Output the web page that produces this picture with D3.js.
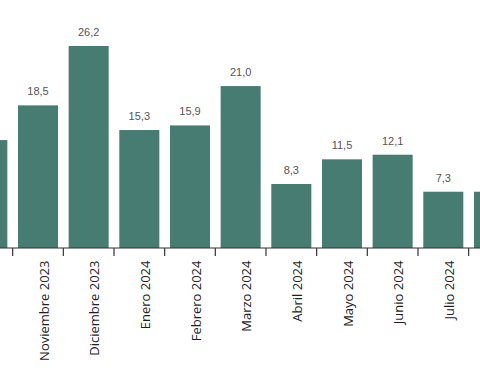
<!DOCTYPE html>
<html><head><meta charset="utf-8">
<script src="https://cdn.jsdelivr.net/npm/d3@7"></script>
<style>html,body{margin:0;padding:0;background:#fff;overflow:hidden}</style>
</head><body><svg id="c" width="480" height="384"></svg>
<script>
const categories = ["Octubre 2023","Noviembre 2023","Diciembre 2023","Enero 2024","Febrero 2024","Marzo 2024","Abril 2024","Mayo 2024","Junio 2024","Julio 2024","Agosto 2024"];
const values = [14.0,18.5,26.2,15.3,15.9,21.0,8.3,11.5,12.1,7.3,7.3];
const valueLabels = ["14,0","18,5","26,2","15,3","15,9","21,0","8,3","11,5","12,1","7,3","7,3"];

const svg = d3.select("#c");
const W = 480, baseY = 248;
const x = d3.scaleBand().domain(categories).range([-38, 519.3]).paddingInner(0.21).paddingOuter(0.105);
const y = d3.scaleLinear().domain([0, 26.2]).range([baseY, 46]);
const color = "#467c72";

svg.selectAll("rect.bar").data(categories).join("rect")
  .attr("class","bar")
  .attr("x", d => x(d))
  .attr("width", x.bandwidth())
  .attr("y", (d,i) => y(values[i]))
  .attr("height", (d,i) => baseY - y(values[i]))
  .attr("fill", color);

// only the categories whose band lies fully inside the view get texts
const inView = d => x(d) >= 0 && x(d) + x.bandwidth() <= W;
const visible = categories.map((d,i) => ({d, i})).filter(o => inView(o.d));

svg.selectAll("text.val").data(visible).join("text")
  .attr("class","val")
  .attr("x", o => x(o.d) + x.bandwidth()/2)
  .attr("y", o => y(values[o.i]) - 10)
  .attr("text-anchor","middle")
  .attr("font-family","Liberation Sans, Arial, sans-serif")
  .attr("font-size", 11)
  .attr("fill","#555")
  .text(o => valueLabels[o.i]);

// axis
const step = x.step();
const axis = d3.axisBottom(x).tickSize(0).tickPadding(0)
  .tickFormat(d => inView(d) ? d : "");
const g = svg.append("g").attr("transform", `translate(0,${baseY})`).call(axis);
g.selectAll(".tick").filter(d => !inView(d)).remove();
g.select(".domain").attr("d", `M0,0H${W}`).attr("stroke","#333").attr("stroke-width",1.2);
g.selectAll(".tick text")
  .attr("font-family","Open Sans, sans-serif")
  .attr("font-size", 13)
  .attr("fill","#1e1e1e")
  .attr("text-anchor","end")
  .attr("dy","0.35em")
  .attr("y", 0)
  .attr("transform","translate(6,12.5) rotate(-90)");
// boundary ticks
svg.append("g").selectAll("line").data(categories.slice(1)).join("line")
  .attr("x1", d => x(d) - step*x.paddingInner()/2)
  .attr("x2", d => x(d) - step*x.paddingInner()/2)
  .attr("y1", baseY).attr("y2", baseY + 8)
  .attr("stroke","#333").attr("stroke-width",1.2);
</script></body></html>
